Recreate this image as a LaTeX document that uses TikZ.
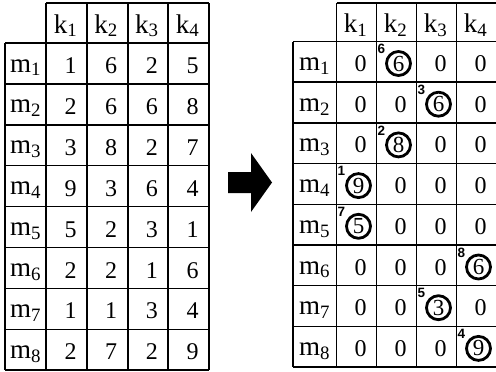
\documentclass[tikz,border=0pt]{standalone}
\usepackage{fontspec}
\setmainfont{Liberation Serif}
\newfontfamily\ordfont{Liberation Sans}
\tikzstyle{every node}=[inner sep=0pt]
\tikzstyle{lbl}=[anchor=base,font=\fontsize{27}{27}\selectfont]
\tikzstyle{num}=[anchor=base,font=\fontsize{24}{24}\selectfont]
\tikzstyle{ring}=[draw=black,shape=circle,line width=2.8pt,minimum size=24pt]
\tikzstyle{ord}=[font=\ordfont\bfseries\fontsize{13.5}{13.5}\selectfont]

\begin{document}
\begin{tikzpicture}[x=1pt, y=-1pt, line width=1.5pt]
	\useasboundingbox (0,0) rectangle (496,372);
	% left table
	\draw (46,3) -- (209,3);
	\foreach \i in {0,...,8} \draw (5,43+40.9*\i) -- (209,43+40.9*\i);
	\draw (5,43) -- (5,370.2);
	\foreach \x in {46,87,128,168,209} \draw (\x,3) -- (\x,370.2);
	\foreach \j in {1,...,4}
		\node (ak\j) [lbl] at ({65.5+40.7*(\j-1)}, 33) {k\textsubscript{\j}};
	\foreach \row [count=\i] in {{1,6,2,5},{2,6,6,8},{3,8,2,7},{9,3,6,4},
			{5,2,3,1},{2,2,1,6},{1,1,3,4},{2,7,2,9}} {
		\node (am\i) [lbl] at (25.5, {43+40.9*(\i-1)+29}) {m\textsubscript{\i}};
		\foreach \v [count=\j] in \row
			\node (a\i\j) [num] at ({70.5+40.7*(\j-1)}, {43+40.9*(\i-1)+30.5}) {\v};
	}
	% arrow
	\fill (228,172) -- (251,172) -- (251,153) -- (272,182.5) -- (251,212)
		-- (251,193) -- (228,193) -- cycle;
	% right table
	\draw (336.5,3) -- (496.5,3);
	\foreach \i in {0,...,8} \draw (293,41.5+40.7*\i) -- (496.5,41.5+40.7*\i);
	\draw (293,41.5) -- (293,367.1);
	\foreach \x in {336.5,376.5,416.5,456.5,496.5} \draw (\x,3) -- (\x,367.1);
	\foreach \j in {1,...,4}
		\node (bk\j) [lbl] at ({355.5+40*(\j-1)}, 32.5) {k\textsubscript{\j}};
	\foreach \row [count=\i] in {{0/0,6/6,0/0,0/0},{0/0,0/0,6/3,0/0},
			{0/0,8/2,0/0,0/0},{9/1,0/0,0/0,0/0},{5/7,0/0,0/0,0/0},
			{0/0,0/0,0/0,6/8},{0/0,0/0,3/5,0/0},{0/0,0/0,0/0,9/4}} {
		\node (bm\i) [lbl] at (314.7, {41.5+40.7*(\i-1)+29}) {m\textsubscript{\i}};
		\foreach \v/\o [count=\j] in \row {
			\ifnum\o=0
				\node (b\i\j) [num] at ({360.5+40*(\j-1)}, {41.5+40.7*(\i-1)+30}) {0};
			\else
				\node (c\i\j) [ring] at ({398.5+40*(\j-2)}, {41.5+40.7*(\i-1)+22}) {};
				\node (b\i\j) [num] at (c\i\j.center) [anchor=center,font=\fontsize{23}{23}\selectfont] {\v};
				\node (o\i\j) [ord] at ({341.5+40*(\j-1)}, {41.5+40.7*(\i-1)+7.5}) {\o};
			\fi
		}
	}
\end{tikzpicture}
\end{document}
